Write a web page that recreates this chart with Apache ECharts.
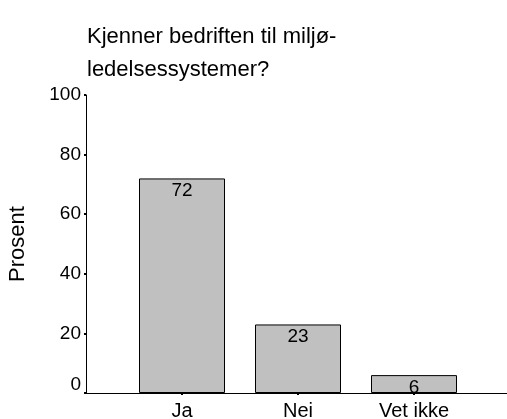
<!DOCTYPE html>
<html>
<head>
<meta charset="utf-8">
<script src="https://cdn.jsdelivr.net/npm/echarts@6/dist/echarts.min.js"></script>
<style>
  html, body { margin: 0; padding: 0; background: #fff; }
  #chart { width: 507px; height: 419px; }
</style>
</head>
<body>
<div id="chart"></div>
<script>
var categories = ['Ja', 'Nei', 'Vet ikke']
var values = [72, 23, 6]
var yTicks = [0, 20, 40, 60, 80, 100]

var font = 'Liberation Sans, Arial, sans-serif'
var myChart = echarts.init(document.getElementById('chart'))

var option = {
  animation: false,
  title: {
    text: 'Kjenner bedriften til miljø-\nledelsessystemer?',
    left: 82,
    top: 15,
    textStyle: {
      color: '#000',
      fontWeight: 'normal',
      fontFamily: font,
      fontSize: 22,
      lineHeight: 33
    }
  },
  grid: [
    // outer grid: carries the y axis and the long baseline
    { left: 86, right: 0, top: 95, bottom: 26, outerBoundsMode: 'none' },
    // inner grid: the bars
    { left: 124, right: 35, top: 95, bottom: 26, outerBoundsMode: 'none' }
  ],
  xAxis: [
    {
      gridIndex: 0,
      type: 'value',
      min: 0,
      max: 1,
      axisLine: { show: true, onZero: false, lineStyle: { color: '#000', width: 1 } },
      axisTick: { show: false },
      axisLabel: { show: false },
      splitLine: { show: false }
    },
    {
      gridIndex: 1,
      type: 'category',
      data: categories,
      axisLine: { show: false },
      axisTick: {
        show: true,
        alignWithLabel: true,
        length: 2,
        lineStyle: { color: '#000', width: 2 }
      },
      axisLabel: {
        color: '#000',
        fontFamily: font,
        fontSize: 20,
        margin: 8
      }
    }
  ],
  yAxis: [
    {
      gridIndex: 0,
      type: 'value',
      min: yTicks[0],
      max: yTicks[yTicks.length - 1],
      interval: 20,
      name: 'Prosent',
      nameLocation: 'middle',
      nameGap: 57,
      nameTextStyle: { color: '#000', fontFamily: font, fontSize: 22 },
      axisLine: { show: true, lineStyle: { color: '#000', width: 1 } },
      axisTick: { show: true, length: 2, lineStyle: { color: '#000', width: 2 } },
      axisLabel: {
        color: '#000',
        fontFamily: font,
        fontSize: 19,
        margin: 5,
        // the 0 label sits a little above the baseline
        formatter: function(v) {
          return v === 0 ? '{z|0}' : String(v)
        },
        rich: {
          z: { fontFamily: font, fontSize: 19, color: '#000', padding: [0, 0, 16, 0] }
        }
      },
      splitLine: { show: false }
    },
    {
      gridIndex: 1,
      type: 'value',
      min: yTicks[0],
      max: yTicks[yTicks.length - 1],
      show: false
    }
  ],
  series: [
    {
      type: 'bar',
      xAxisIndex: 1,
      yAxisIndex: 1,
      data: values,
      barWidth: 86,
      itemStyle: { color: '#c0c0c0', borderColor: '#000', borderWidth: 1 },
      label: {
        show: true,
        position: 'insideTop',
        distance: 3,
        color: '#000',
        fontFamily: font,
        fontSize: 19
      }
    }
  ]
}

myChart.setOption(option)
</script>
</body>
</html>
